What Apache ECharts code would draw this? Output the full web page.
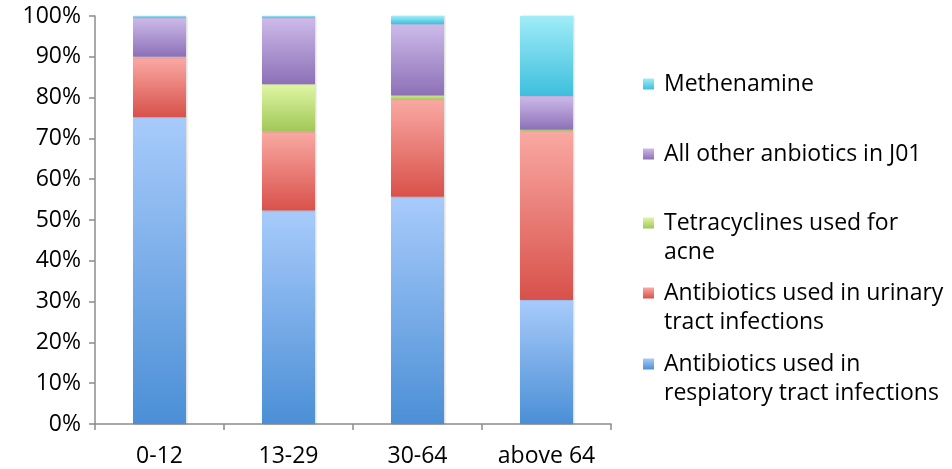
<!DOCTYPE html>
<html>
<head>
<meta charset="utf-8">
<script src="https://cdn.jsdelivr.net/npm/echarts@6/dist/echarts.min.js"></script>
<style>
  html, body { margin: 0; padding: 0; background: #ffffff; }
  #chart { width: 952px; height: 469px; }
</style>
</head>
<body>
<div id="chart"></div>
<script>
// Age groups on the x axis
const categories = ['0-12', '13-29', '30-64', 'above 64'];

// Share of prescriptions (%) per age group, stacked bottom to top
const respiratory = [75.2, 52.3, 55.7, 30.4];
const urinary     = [14.5, 19.3, 23.9, 41.5];
const tetracycline = [0.3, 11.7, 0.9, 0.2];
const otherJ01    = [9.6, 16.3, 17.5, 8.3];
const methenamine = [0.4, 0.4, 2.0, 19.6];

const seriesNames = [
  'Antibiotics used in\nrespiatory tract infections',
  'Antibiotics used in urinary\ntract infections',
  'Tetracyclines used for\nacne',
  'All other anbiotics in J01',
  'Methenamine'
];
const seriesData = [respiratory, urinary, tetracycline, otherJ01, methenamine];

// Top / bottom gradient colours of each segment
const gradients = [
  ['#a8cbfb', '#4b8fd6'],
  ['#faa9a3', '#d8514a'],
  ['#e0f6a4', '#a1c757'],
  ['#cdbbea', '#8d70b7'],
  ['#a0ecf8', '#3ebfdd']
];

const font = '"Open Sans", Lato, sans-serif';
const FS = 23;
const LINE = 29;
const LEG_X = 643;
const TEXT_X = 664;

const series = seriesData.map((vals, i) => ({
  name: seriesNames[i],
  type: 'bar',
  stack: 'total',
  barWidth: 53,
  data: vals,
  itemStyle: {
    color: new echarts.graphic.LinearGradient(0, 0, 0, 1, [
      { offset: 0, color: gradients[i][0] },
      { offset: 1, color: gradients[i][1] }
    ]),
    shadowColor: 'rgba(0,0,0,0.18)',
    shadowBlur: 2,
    shadowOffsetX: 0.5
  },
  emphasis: { disabled: true }
}));

// Legend rows: name index and vertical centre of the first text line
const legendRows = [
  { idx: 4, c: 84 },
  { idx: 3, c: 154 },
  { idx: 2, c: 223 },
  { idx: 1, c: 293 },
  { idx: 0, c: 364 }
];

// Each legend shows the swatch with the first line of its name;
// continuation lines are set underneath as plain text.
const legends = legendRows.map(r => ({
  data: [seriesNames[r.idx]],
  orient: 'vertical',
  left: LEG_X,
  top: r.c - LINE / 2,
  padding: 0,
  itemWidth: 11,
  itemHeight: 11,
  icon: 'rect',
  selectedMode: false,
  formatter: name => name.split('\n')[0],
  textStyle: {
    fontFamily: font,
    fontSize: FS,
    color: '#000',
    lineHeight: LINE,
    padding: [0, 0, 0, 5]
  }
}));

const continuation = [];
legendRows.forEach(r => {
  seriesNames[r.idx].split('\n').slice(1).forEach((line, k) => {
    continuation.push({
      type: 'text',
      left: TEXT_X,
      top: r.c + LINE * (k + 1) - LINE / 2,
      silent: true,
      style: {
        text: line,
        fontFamily: font,
        fontSize: FS,
        lineHeight: LINE,
        fill: '#000'
      }
    });
  });
});

const chart = echarts.init(document.getElementById('chart'), null, { renderer: 'canvas' });
chart.setOption({
  animation: false,
  backgroundColor: '#ffffff',
  grid: { left: 95, right: 341, top: 16, bottom: 45, containLabel: false },
  legend: legends,
  graphic: continuation,
  xAxis: {
    type: 'category',
    data: categories,
    axisLine: { lineStyle: { color: '#8c8c8c', width: 1.5 } },
    axisTick: { show: true, length: 6, alignWithLabel: false, lineStyle: { color: '#8c8c8c', width: 1.5 } },
    axisLabel: { color: '#000', fontFamily: font, fontSize: FS, margin: 21 }
  },
  yAxis: {
    type: 'value',
    min: 0,
    max: 100,
    interval: 10,
    splitLine: { show: false },
    axisLine: { show: true, lineStyle: { color: '#8c8c8c', width: 1.5 } },
    axisTick: { show: true, length: 6, lineStyle: { color: '#8c8c8c', width: 1.5 } },
    axisLabel: { color: '#000', fontFamily: font, fontSize: FS, margin: 14, formatter: '{value}%' }
  },
  series: series
});
</script>
</body>
</html>
